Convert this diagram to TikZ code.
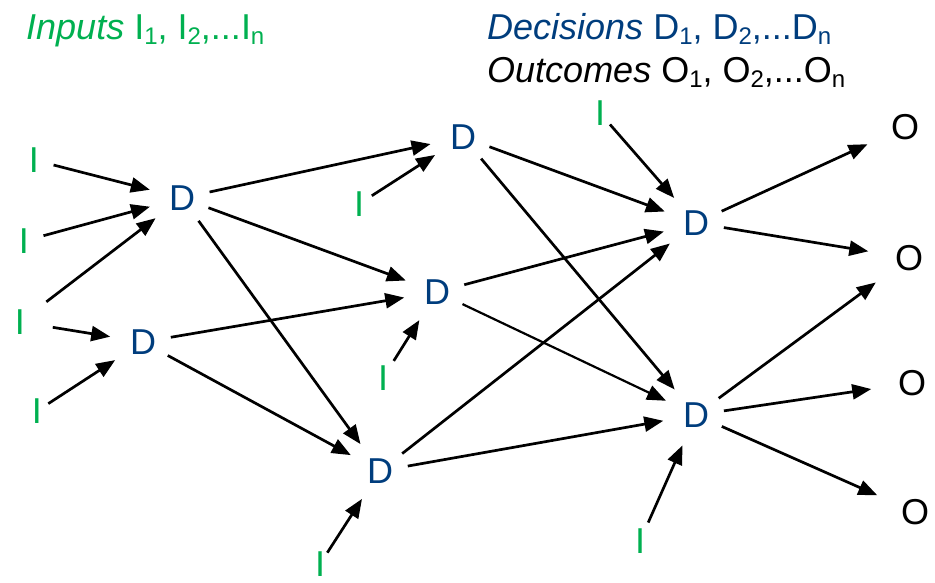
\documentclass[tikz,border=0pt]{standalone}
\usepackage{fontspec}
\setmainfont{Liberation Sans}
\usetikzlibrary{arrows.meta}
\definecolor{ingreen}{RGB}{0,176,80}
\definecolor{decblue}{RGB}{0,61,125}
\newcommand{\idx}[1]{\raisebox{-0.12em}{\fontsize{24}{24}\selectfont #1}}

\begin{document}
\begin{tikzpicture}[x=1pt,y=-1pt,
		font=\fontsize{36}{42}\selectfont,
		inp/.style={circle, inner sep=0pt, minimum size=40pt, text=ingreen},
		dec/.style={circle, inner sep=0pt, minimum size=56pt, text=decblue},
		outc/.style={circle, inner sep=0pt, minimum size=72pt},
		arr/.style={-{Triangle[length=19pt,width=15pt]}, line width=2.7pt, shorten >=5pt}]
					\useasboundingbox (0,0) rectangle (935,583);

					% headings
					\node[anchor=base west, inner sep=0pt, text=ingreen] (inputs) at (26,40) {\textit{Inputs} I\idx{1}, I\idx{2},...I\idx{n}};
					\node[anchor=base west, inner sep=0pt, text=decblue] (decisions) at (487,40) {\textit{Decisions} D\idx{1}, D\idx{2},...D\idx{n}};
					\node[anchor=base west, inner sep=0pt] (outcomes) at (487,83) {\textit{Outcomes} O\idx{1}, O\idx{2},...O\idx{n}};

					% inputs
					\node[inp] (i1) at (34,160) {I};
					\node[inp] (i2) at (24,241) {I};
					\node[inp, minimum size=66pt] (i3) at (20,322) {I};
					\node[inp, minimum size=24pt] (i4) at (37,411) {I};
					\node[inp, minimum size=30pt] (i5) at (359,204) {I};
					\node[inp] (i6) at (383,378) {I};
					\node[inp, minimum size=26pt] (i7) at (320,564) {I};
					\node[inp, minimum size=30pt] (i8) at (600,113) {I};
					\node[inp] (i9) at (640,541) {I};

					% decisions
					\node[dec] (d1) at (182,198) {D};
					\node[dec] (d2) at (143,342) {D};
					\node[dec] (d3) at (463,137) {D};
					\node[dec] (d4) at (437,292) {D};
					\node[dec] (d5) at (380,471) {D};
					\node[dec] (d6) at (696,223) {D};
					\node[dec] (d7) at (696,415) {D};

					% outcomes
					\node[outc] (o1) at (905,127) {O};
					\node[outc] (o2) at (909,258) {O};
					\node[outc] (o3) at (912,383) {O};
					\node[outc] (o4) at (915,512) {O};

					\path[arr]
						(i1) edge (d1)
						(i2) edge (d1)
						(i3) edge (d1)
						(i3) edge (d2)
						(i4) edge (d2)
						(d1) edge (d3)
						(d1) edge (d4)
						(d1) edge (d5)
						(d2) edge (d4)
						(d2) edge (d5)
						(i5) edge (d3)
						(i6) edge (d4)
						(i7) edge (d5)
						(d3) edge (d6)
						(d3) edge (d7)
						(d4) edge (d6)
						(d4) edge[line width=2.2pt] (d7)
						(d5) edge (d6)
						(d5) edge (d7)
						(i8) edge (d6)
						(i9) edge (d7)
						(d6) edge (o1)
						(d6) edge (o2)
						(d7) edge (o2)
						(d7) edge (o3)
						(d7) edge (o4)
					;
				\end{tikzpicture}
\end{document}
